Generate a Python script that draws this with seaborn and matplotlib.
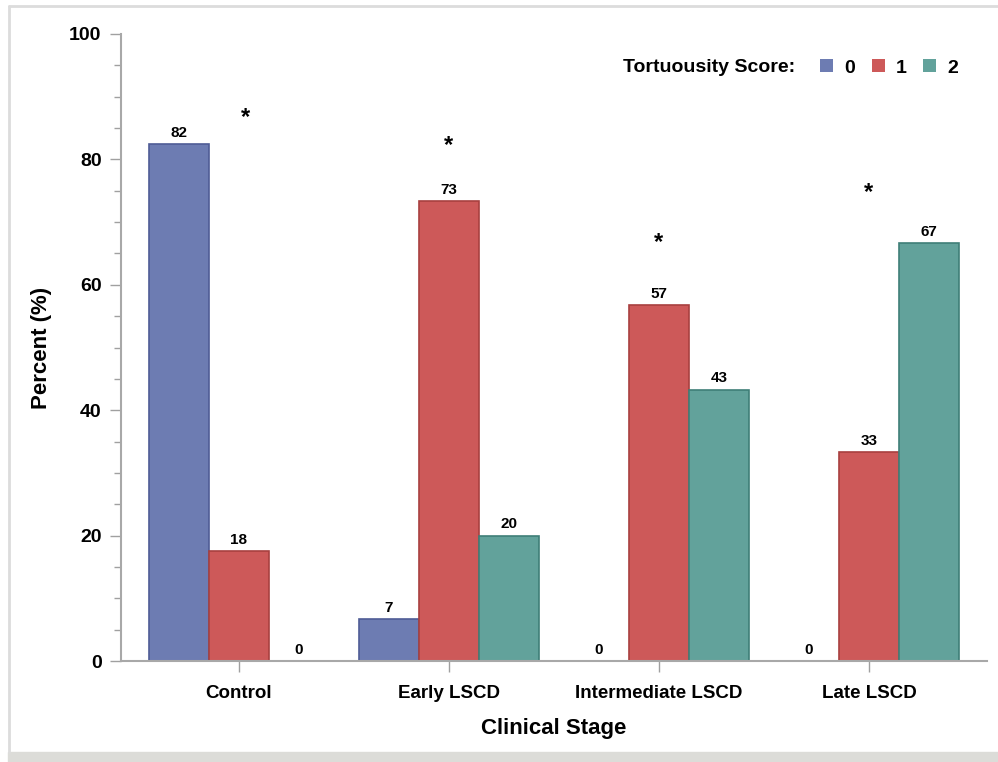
import matplotlib
matplotlib.use("Agg")
import matplotlib.pyplot as plt
import matplotlib.patches as mpatches
from matplotlib.ticker import MultipleLocator
import seaborn as sns
import pandas as pd

# dati
stages = ["Control", "Early LSCD", "Intermediate LSCD", "Late LSCD"]
score_0 = [82.4, 6.7, 0.0, 0.0]
score_1 = [17.6, 73.3, 56.7, 33.3]
score_2 = [0.0, 20.0, 43.3, 66.7]
scores = ["0", "1", "2"]
star_y = [86.7, 82.2, 66.7, 74.7]

colors = ["#6D7CB2", "#CD5959", "#62A29B"]
edges = ["#4F5C96", "#A8403F", "#3F7F78"]

df = pd.DataFrame({
    "Stage": stages * 3,
    "Score": [s for s in scores for _ in stages],
    "Percent": score_0 + score_1 + score_2,
})

sns.set_style("white")
plt.rcParams["font.family"] = ["Liberation Sans", "DejaVu Sans"]
plt.rcParams["font.weight"] = "bold"
plt.rcParams["text.color"] = "black"
plt.rcParams["axes.labelcolor"] = "black"
plt.rcParams["xtick.labelcolor"] = "black"
plt.rcParams["ytick.labelcolor"] = "black"

fig = plt.figure(figsize=(9.98, 7.62), dpi=100)
ax = fig.add_axes([0.1212, 0.1325, 0.8678, 0.8229])

sns.barplot(data=df, x="Stage", y="Percent", hue="Score", order=stages,
            hue_order=scores, palette=colors, width=0.857, saturation=1,
            ax=ax, legend=False, linewidth=1.2)

for i, cont in enumerate(ax.containers):
    for bar in cont:
        bar.set_edgecolor(edges[i] if bar.get_height() > 0 else "#A8A8A8")
    ax.bar_label(cont, labels=[f"{v:.0f}" for v in cont.datavalues],
                 padding=3, fontsize=11, fontweight="bold", color="black")

for i, y in enumerate(star_y):
    ax.text(i + 0.03 if i == 0 else i, y, "*", ha="center", va="center",
            fontsize=17, fontweight="bold", color="black")

ax.set_xlim(-0.562, 3.562)
ax.set_ylim(0, 100)
ax.yaxis.set_major_locator(MultipleLocator(20))
ax.yaxis.set_minor_locator(MultipleLocator(5))
ax.tick_params(axis="y", which="major", length=8, width=1, color="#A0A0A0",
               labelsize=14, pad=6, left=True)
ax.tick_params(axis="y", which="minor", length=5, width=1, color="#A0A0A0", left=True)
ax.tick_params(axis="x", length=8, width=1, color="#A0A0A0", labelsize=13.5,
               pad=9, bottom=True)
for lab in ax.get_xticklabels() + ax.get_yticklabels():
    lab.set_fontweight("bold")

for side in ["top", "right"]:
    ax.spines[side].set_visible(False)
for side in ["left", "bottom"]:
    ax.spines[side].set_color("#A8A8A8")
    ax.spines[side].set_linewidth(1.5)

ax.set_xlabel("Clinical Stage", fontsize=16, fontweight="bold", labelpad=12)
ax.set_ylabel("Percent (%)", fontsize=16, fontweight="bold", labelpad=12)

handles = [mpatches.Patch(facecolor=c, edgecolor="none") for c in colors]
leg = ax.legend(handles, scores, ncol=3, loc="center left",
                bbox_to_anchor=(0.822, 0.9108), bbox_transform=fig.transFigure,
                frameon=False, borderpad=0, borderaxespad=0,
                prop={"size": 14, "weight": "bold"}, handlelength=0.67,
                handleheight=0.67, handletextpad=0.57, columnspacing=0.85)
fig.text(0.624, 0.9108, "Tortuousity Score:", fontsize=14, fontweight="bold",
         va="center", ha="left")

# cornice grigia chiara e striscia in basso
fig.add_artist(plt.Line2D([0.0095, 0.0095], [0.013, 0.992], color="#DCDCDC",
                          lw=2, transform=fig.transFigure))
fig.add_artist(plt.Line2D([0.0095, 1.0], [0.992, 0.992], color="#DCDCDC",
                          lw=2, transform=fig.transFigure))
fig.add_artist(mpatches.Rectangle((0.0085, 0.0), 0.992, 0.013, color="#DCDCD8",
                                  transform=fig.transFigure))

fig.savefig("out.png", dpi=100)
